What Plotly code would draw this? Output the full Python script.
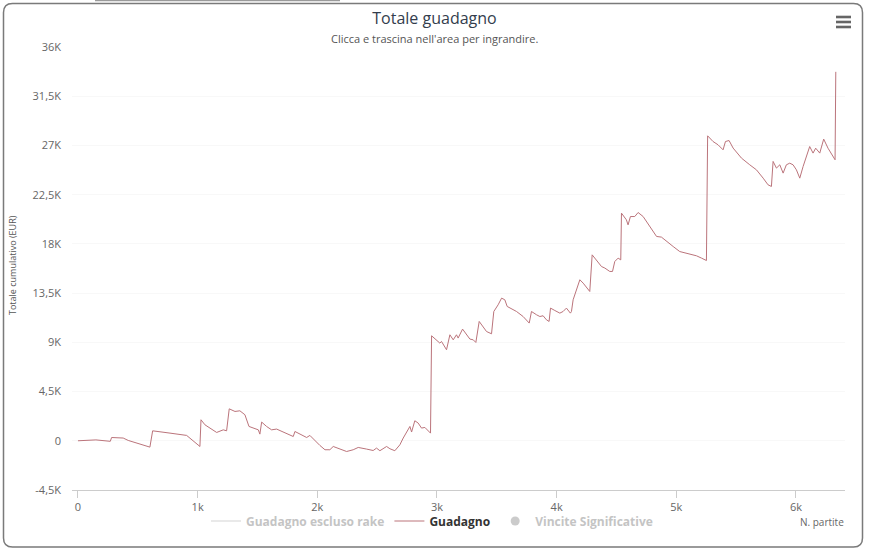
import plotly.graph_objects as go

# ---- data ----
partite = [0, 150, 270, 281, 378, 420, 601, 624, 769, 908, 1019, 1028, 1061, 1103, 1159, 1214, 1242,
           1264, 1312, 1353, 1395, 1429, 1507, 1520, 1535, 1576, 1618, 1660, 1715, 1799, 1813, 1855,
           1911, 1938, 1980, 2022, 2064, 2105, 2133, 2189, 2245, 2300, 2342, 2412, 2467, 2495, 2523,
           2579, 2607, 2648, 2690, 2718, 2746, 2774, 2788, 2815, 2843, 2871, 2899, 2927, 2946,
           2955, 2997, 3024, 3038, 3080, 3108, 3136, 3163, 3177, 3214, 3247, 3275, 3303, 3325,
           3353, 3386, 3414, 3456, 3475, 3511, 3540, 3567, 3587, 3665, 3720, 3771, 3790, 3832,
           3860, 3887, 3915, 3937, 3949, 3985, 4027, 4054, 4082, 4115, 4124, 4138, 4166, 4194,
           4222, 4277, 4297, 4333, 4375, 4403, 4444, 4467, 4486, 4514, 4536, 4542, 4583, 4597,
           4617, 4653, 4681, 4723, 4779, 4835, 4876, 4918, 4974, 5029, 5085, 5127, 5169, 5211,
           5252, 5262, 5307, 5349, 5391, 5411, 5441, 5475, 5545, 5614, 5670, 5726, 5767, 5795,
           5809, 5837, 5865, 5893, 5920, 5948, 5976, 6004, 6032, 6060, 6087, 6115, 6143, 6165,
           6199, 6232, 6268, 6310, 6327, 6333]
guadagno = [0, 80, -50, 300, 250, 30, -580, 910, 700, 490, -520, 1920, 1460, 1160, 760, 1000, 910,
            2920, 2680, 2740, 2380, 1310, 1000, 610, 1710, 1310, 1000, 1070, 800, 390, 850, 610,
            300, 490, 0, -430, -820, -820, -520, -760, -980, -820, -610, -760, -890, -670, -910,
            -520, -730, -910, -370, 250, 850, 1310, 800, 1830, 1620, 1160, 1220, 910, 700,
            9600, 9230, 8930, 9080, 8320, 9690, 9230, 9690, 9390, 10210, 9690, 9300, 9230, 8990,
            10910, 10450, 9990, 9780, 11820, 12430, 13040, 12890, 12280, 11820, 11360, 10760, 11820, 11520,
            11360, 11430, 11060, 10910, 12130, 11910, 11670, 11820, 12130, 11670, 11820, 12890, 13800, 14720,
            14410, 13650, 17000, 16540, 15930, 15790, 15480, 15480, 16390, 16700, 16540, 20810, 20200, 19740,
            20500, 20500, 20870, 20500, 19590, 18680, 18620, 18220, 17760, 17300, 17160, 17000, 16910, 16700,
            16480, 27880, 27360, 27060, 26600, 27360, 27450, 26760, 25840, 25230, 24770, 24010, 23400, 23250,
            25540, 24930, 25230, 24470, 25230, 25380, 25230, 24770, 24010, 25080, 25990, 26900, 26300, 26750,
            26300, 27580, 26750, 25990, 25690, 33730]

y_tickvals = [-4500, 0, 4500, 9000, 13500, 18000, 22500, 27000, 31500, 36000]
y_ticktext = ["-4,5K", "0", "4,5K", "9K", "13,5K", "18K", "22,5K", "27K", "31,5K", "36K"]
x_tickvals = [0, 1000, 2000, 3000, 4000, 5000, 6000]
x_ticktext = ["0", "1k", "2k", "3k", "4k", "5k", "6k"]

# ---- layout geometry ----
W, H = 869, 550
L, R, T, B = 72, 24, 47, 60
PW, PH = W - L - R, H - T - B


def px(xp):
    return (xp - L) / PW


def py(yp):
    return (H - B - yp) / PH


LINE_COLOR = "#bb747b"
FONT = "Open Sans, DejaVu Sans, sans-serif"

fig = go.Figure()
fig.add_trace(go.Scatter(x=[None], y=[None], mode="lines", visible="legendonly",
                         name="<span style='color:#8a8a8a'>Guadagno escluso rake</span>",
                         line=dict(color="#aaaaaa", width=1)))
fig.add_trace(go.Scatter(x=partite, y=guadagno, mode="lines", name="Guadagno",
                         line=dict(color=LINE_COLOR, width=1)))
fig.add_trace(go.Scatter(x=[None], y=[None], mode="markers", visible="legendonly",
                         name="<span style='color:#8a8a8a'>Vincite Significative</span>",
                         marker=dict(color="#999999", size=9, symbol="circle")))

# frame with rounded corners
x0, y0, x1, y1, r = 3.5, 3.5, 862.5, 547, 9
path = (f"M {px(x0 + r)},{py(y0)} L {px(x1 - r)},{py(y0)} Q {px(x1)},{py(y0)} {px(x1)},{py(y0 + r)} "
        f"L {px(x1)},{py(y1 - r)} Q {px(x1)},{py(y1)} {px(x1 - r)},{py(y1)} "
        f"L {px(x0 + r)},{py(y1)} Q {px(x0)},{py(y1)} {px(x0)},{py(y1 - r)} "
        f"L {px(x0)},{py(y0 + r)} Q {px(x0)},{py(y0)} {px(x0 + r)},{py(y0)} Z")
shapes = [dict(type="path", xref="paper", yref="paper", path=path,
               line=dict(color="#7a7a7a", width=1.5), layer="below")]
shapes.append(dict(type="line", xref="paper", yref="paper", x0=px(95), x1=px(340), y0=py(0.5), y1=py(0.5),
                   line=dict(color="#9a9a9a", width=1.5)))
# hamburger menu icon
for yy in (17, 22, 27):
    shapes.append(dict(type="line", xref="paper", yref="paper", x0=px(836), x1=px(851), y0=py(yy), y1=py(yy),
                       line=dict(color="#666666", width=2.6)))

annotations = [
    dict(text="Clicca e trascina nell'area per ingrandire.", xref="paper", yref="paper",
         x=px(434.5), y=py(38), xanchor="center", yanchor="middle", showarrow=False,
         font=dict(family=FONT, size=11, color="#555555")),
    dict(text="Totale cumulativo (EUR)", xref="paper", yref="paper", textangle=-90,
         x=px(12), y=py(265), xanchor="center", yanchor="middle", showarrow=False,
         font=dict(family=FONT, size=9, color="#555555")),
    dict(text="N. partite", xref="paper", yref="paper",
         x=px(822), y=py(522), xanchor="center", yanchor="middle", showarrow=False,
         font=dict(family=FONT, size=10, color="#666666")),
]

fig.update_layout(
    width=W, height=H,
    margin=dict(l=L, r=R, t=T, b=B),
    paper_bgcolor="white", plot_bgcolor="white",
    title=dict(text="Totale guadagno", x=0.5, xref="container", xanchor="center",
               y=1 - 18 / H, yref="container", yanchor="middle",
               font=dict(family=FONT, size=16, color="#333d4d")),
    xaxis=dict(range=[-50, 6410], tickvals=x_tickvals, ticktext=x_ticktext,
               showgrid=False, zeroline=False, showline=True, linecolor="#cccccc", linewidth=1,
               ticks="outside", ticklen=7, tickcolor="#cccccc",
               tickfont=dict(family=FONT, size=11, color="#666666")),
    yaxis=dict(range=[-4500, 36000], tickvals=y_tickvals, ticktext=y_ticktext,
               showgrid=True, gridcolor="#f8f8f8", zeroline=False, showline=False,
               ticklabelstandoff=10,
               tickfont=dict(family=FONT, size=11, color="#666666")),
    showlegend=True,
    legend=dict(orientation="h", x=px(432), y=py(521), xanchor="center", yanchor="middle",
                font=dict(family=FONT, size=12, color="#333333", weight="bold"),
                itemwidth=30, bgcolor="rgba(0,0,0,0)", traceorder="normal"),
    shapes=shapes,
    annotations=annotations,
)

fig.write_html("out.html")
